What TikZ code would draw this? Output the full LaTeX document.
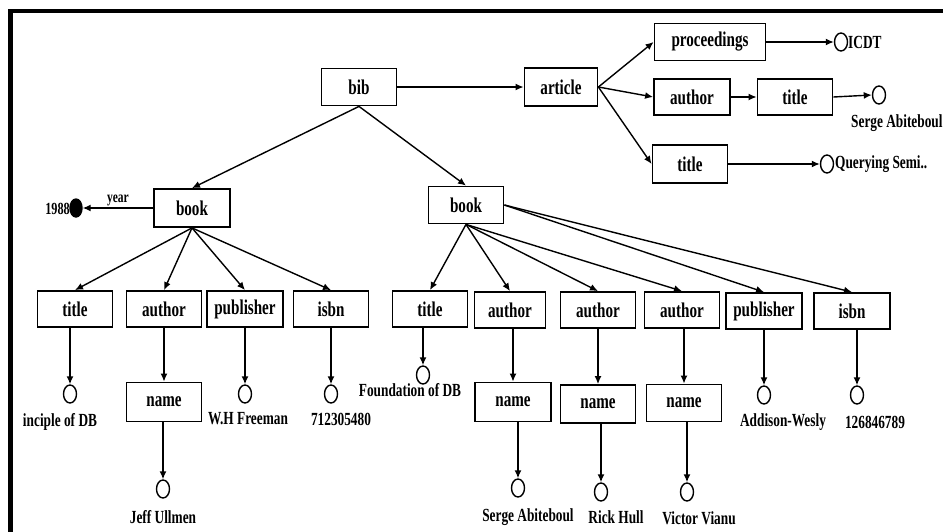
\documentclass[tikz,border=0pt]{standalone}
\usepackage{fontspec}
\setmainfont{Liberation Serif}[FakeStretch=0.72]
\usetikzlibrary{arrows.meta,shapes.geometric}
\begin{document}
\begin{tikzpicture}[x=1pt,y=-1pt,
  elem/.style={draw,line width=1.8pt,rectangle,minimum width=75pt,minimum height=37pt,inner sep=0pt,
    font=\fontsize{21}{24}\selectfont\bfseries},
  val/.style={draw,line width=1.4pt,ellipse,minimum width=13pt,minimum height=18pt,inner sep=0pt},
  fval/.style={val,fill=black},
  lbl/.style={inner sep=0pt,font=\fontsize{18.5}{21}\selectfont\bfseries},
  arr/.style={line width=1.4pt,-{Latex[length=8pt,width=7pt]}}]
\useasboundingbox (0,0) rectangle (943,531);
% frame (left and top edges only)
\draw[line width=4.5pt,line join=miter] (10.3,535) -- (10.3,11.2) -- (947,11.2);

% root and article branch
\node[elem] (bib) at (359,87) {bib};
\node[elem,minimum width=73pt,minimum height=38pt] (article) at (561,87) {article};
\node[elem,minimum width=111pt] (proc) at (710,42) {proceedings};
\node[elem,minimum width=76pt,minimum height=36pt] (aauth) at (692,97) {author};
\node[elem,minimum height=36pt] (atitle) at (795,97) {title};
\node[elem,minimum height=38pt] (atitleB) at (690,164) {title};
\node[val] (cicdt) at (841,42) {};
\node[lbl,anchor=west] (licdt) at (848,42) {ICDT};
\node[val] (cserge) at (879,95) {};
\node[lbl,anchor=west] (lserge) at (851,123) {Serge Abiteboul};
\node[val] (cquery) at (827,164) {};
\node[lbl,anchor=west] (lquery) at (835,164) {Querying Semi..};

\draw[arr] (bib.east) -- (article.west);
\draw[arr] (article.east) -- (proc.west);
\draw[arr] (article.east) -- (aauth.west);
\draw[arr] (article.east) -- (atitleB.west);
\draw[arr] (proc.east) -- (cicdt.west);
\draw[arr] (aauth.east) -- (atitle.west);
\draw[arr] (atitle.east) -- (cserge.west);
\draw[arr] (atitleB.east) -- (cquery.west);

% the two books
\node[elem,minimum width=76pt,minimum height=38pt] (bookL) at (192,208) {book};
\node[elem,minimum height=37pt] (bookR) at (466,205) {book};
\draw[arr] (bib.south) -- (bookL.north);
\draw[arr] (bib.south) -- (bookR.north);

% year of the first book
\node[fval,minimum width=12pt] (cyear) at (76,208) {};
\node[inner sep=0pt,anchor=east,font=\fontsize{17}{19}\selectfont\bfseries] (l1988) at (70,209) {1988};
\draw[arr] (bookL.west) -- node[above=0pt,inner sep=1pt,font=\fontsize{16}{18}\selectfont\bfseries] {year} (cyear.east);

% children of the first book
\node[elem,minimum height=36pt] (tL) at (75,309) {title};
\node[elem,minimum height=36pt] (aL) at (164,309) {author};
\node[elem,minimum width=76pt,minimum height=36pt] (pL) at (245,309) {publisher};
\node[elem,minimum height=36pt] (iL) at (331,309) {isbn};
\draw[arr] (bookL.south) -- (tL.north);
\draw[arr] (bookL.south) -- (aL.north);
\draw[arr] (bookL.south) -- (pL.north);
\draw[arr] (bookL.south) -- (iL.north);

\node[val] (ctL) at (70,394) {};
\node[lbl] (ltL) at (60,422) {inciple of DB};
\node[elem,minimum height=39pt] (nL) at (164,402) {name};
\node[val] (cpL) at (245,394) {};
\node[lbl] (lpL) at (248,419) {W.H Freeman};
\node[val] (ciL) at (331,394) {};
\node[lbl] (liL) at (341,419) {712305480};
\node[val] (cnL) at (163,489) {};
\node[lbl] (lnL) at (163,517) {Jeff Ullmen};
\draw[arr] (ctL |- tL.south) -- (ctL.north);
\draw[arr] (nL.north |- aL.south) -- (nL.north);
\draw[arr] (cpL |- pL.south) -- (cpL.north);
\draw[arr] (ciL |- iL.south) -- (ciL.north);
\draw[arr] (cnL |- nL.south) -- (cnL.north);

% children of the second book
\node[elem,minimum height=36pt] (tR) at (430,309) {title};
\node[elem,minimum width=71pt,minimum height=36pt] (a1) at (510,310) {author};
\node[elem,minimum height=36pt] (a2) at (598,310) {author};
\node[elem,minimum height=36pt] (a3) at (682,310) {author};
\node[elem,minimum width=76pt,minimum height=36pt] (pR) at (764,311) {publisher};
\node[elem,minimum width=76pt,minimum height=36pt] (iR) at (852,311) {isbn};
\draw[arr] (bookR.south) -- (tR.north);
\draw[arr] (bookR.south) -- (a1.north);
\draw[arr] (bookR.south) -- (a2.north);
\draw[arr] (bookR.south) -- (a3.north);
\draw[arr] (bookR.east) -- (pR.north);
\draw[arr] (bookR.east) -- (iR.north);

\node[val] (ctR) at (423,375) {};
\node[lbl] (ltR) at (410,390) {Foundation of DB};
\node[elem,minimum width=76pt,minimum height=39pt] (n1) at (513,402) {name};
\node[elem,minimum height=38pt] (n2) at (598,404) {name};
\node[elem,minimum height=37pt] (n3) at (684,403) {name};
\node[val] (cpR) at (764,395) {};
\node[lbl] (lpR) at (783,422) {Addison-Wesly};
\node[val] (ciR) at (857,395) {};
\node[lbl] (liR) at (875,422) {126846789};
\node[val] (cn1) at (518,488) {};
\node[lbl] (ln1) at (528,517) {Serge Abiteboul};
\node[val] (cn2) at (601,492) {};
\node[lbl] (ln2) at (616,517) {Rick Hull};
\node[val] (cn3) at (687,492) {};
\node[lbl] (ln3) at (699,518) {Victor Vianu};
\draw[arr] (ctR |- tR.south) -- (ctR.north);
\draw[arr] (n1.north |- a1.south) -- (n1.north);
\draw[arr] (n2.north |- a2.south) -- (n2.north);
\draw[arr] (n3.north |- a3.south) -- (n3.north);
\draw[arr] (cpR |- pR.south) -- (cpR.north);
\draw[arr] (ciR |- iR.south) -- (ciR.north);
\draw[arr] (cn1 |- n1.south) -- (cn1.north);
\draw[arr] (cn2 |- n2.south) -- (cn2.north);
\draw[arr] (cn3 |- n3.south) -- (cn3.north);
\end{tikzpicture}
\end{document}
